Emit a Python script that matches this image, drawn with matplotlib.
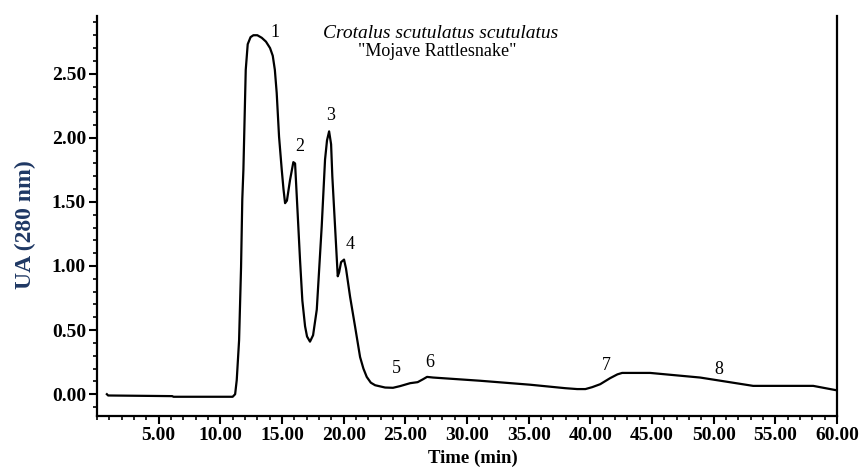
import matplotlib
matplotlib.use("Agg")
from matplotlib import pyplot as plt
from matplotlib.ticker import MultipleLocator, FormatStrFormatter

# chromatogram trace (time in min, absorbance)
time_min = [0.8, 0.9, 6.1, 6.2, 11.0, 11.2, 11.33, 11.52, 11.68, 11.78,
            11.87, 12.06, 12.22, 12.45, 12.68, 13.0, 13.36, 13.7, 14.03, 14.25,
            14.42, 14.57, 14.76, 14.98, 15.12, 15.25, 15.4, 15.65, 15.92, 16.06,
            16.28, 16.46, 16.65, 16.87, 17.03, 17.27, 17.52, 17.82, 18.22, 18.49,
            18.65, 18.82, 18.98, 19.08, 19.30, 19.52, 19.63, 19.79, 20.03, 20.19,
            20.52, 20.92, 21.33, 21.6, 21.87, 22.2, 22.55, 23.36, 24.0, 24.57,
            25.39, 26.0, 26.44, 26.76, 27.25, 31.06, 35.12, 37.96, 38.93, 39.6,
            40.15, 40.8, 41.6, 42.2, 42.58, 44.85, 48.9, 53.2, 58.07, 60.0]
absorbance = [0.0, -0.01, -0.015, -0.02, -0.02, 0.0, 0.11, 0.42, 0.99, 1.52,
              1.75, 2.53, 2.73, 2.785, 2.80, 2.80, 2.78, 2.75, 2.70, 2.64,
              2.53, 2.35, 2.01, 1.75, 1.60, 1.49, 1.51, 1.67, 1.81, 1.80,
              1.39, 1.05, 0.73, 0.53, 0.45, 0.41, 0.46, 0.66, 1.31, 1.83,
              1.98, 2.05, 1.95, 1.70, 1.31, 0.92, 0.95, 1.03, 1.05, 0.98,
              0.76, 0.53, 0.29, 0.2, 0.135, 0.09, 0.07, 0.052, 0.05, 0.063,
              0.086, 0.094, 0.117, 0.135, 0.13, 0.105, 0.074, 0.047, 0.04, 0.04,
              0.055, 0.078, 0.125, 0.155, 0.166, 0.166, 0.13, 0.065, 0.065, 0.03]

peak_labels = ["1", "2", "3", "4", "5", "6", "7", "8"]
peak_x = [14.44, 16.41, 18.98, 20.52, 24.25, 26.95, 41.28, 50.39]
peak_y = [2.82, 1.93, 2.17, 1.17, 0.20, 0.25, 0.22, 0.19]

plt.rcParams["font.family"] = "Liberation Serif"

fig = plt.figure(figsize=(8.6, 4.72), dpi=100)
ax = fig.add_axes([97 / 860, 1 - 416 / 472, 740 / 860, 400 / 472])

ax.plot(time_min, absorbance, color="black", linewidth=1.6)

for lab, px, py in zip(peak_labels, peak_x, peak_y):
    ax.text(px, py, lab, fontsize=13, ha="center", va="center")

ax.text(0.465, 0.955, "Crotalus scutulatus scutulatus", transform=ax.transAxes,
        fontsize=14, style="italic", ha="center", va="center")
ax.text(0.46, 0.912, '"Mojave Rattlesnake"', transform=ax.transAxes,
        fontsize=13, ha="center", va="center")

ax.set_xlim(0, 60)
ax.set_ylim(-0.17, 2.95)

ax.xaxis.set_major_locator(MultipleLocator(5))
ax.xaxis.set_minor_locator(MultipleLocator(1))
ax.yaxis.set_major_locator(MultipleLocator(0.5))
ax.yaxis.set_minor_locator(MultipleLocator(0.1))
ax.xaxis.set_major_formatter(FormatStrFormatter("%.2f"))
ax.yaxis.set_major_formatter(FormatStrFormatter("%.2f"))
ax.set_xticks([t for t in range(5, 61, 5)])

ax.tick_params(which="major", length=6, width=1.5, direction="out", pad=2,
               labelsize=14)
ax.tick_params(which="minor", length=3, width=1.2, direction="out")
for lab in ax.get_xticklabels() + ax.get_yticklabels():
    lab.set_fontweight("bold")

ax.spines["top"].set_visible(False)
for side in ["left", "bottom", "right"]:
    ax.spines[side].set_linewidth(1.6)

fig.text(473 / 860, 1 - 458 / 472, "Time (min)", fontsize=13.5,
         fontweight="bold", ha="center", va="center")
fig.text(25 / 860, 1 - 225 / 472, "UA (280 nm)", fontsize=17,
         fontweight="bold", color="#1F3864", rotation=90,
         ha="center", va="center")

fig.savefig("out.png", dpi=100)
